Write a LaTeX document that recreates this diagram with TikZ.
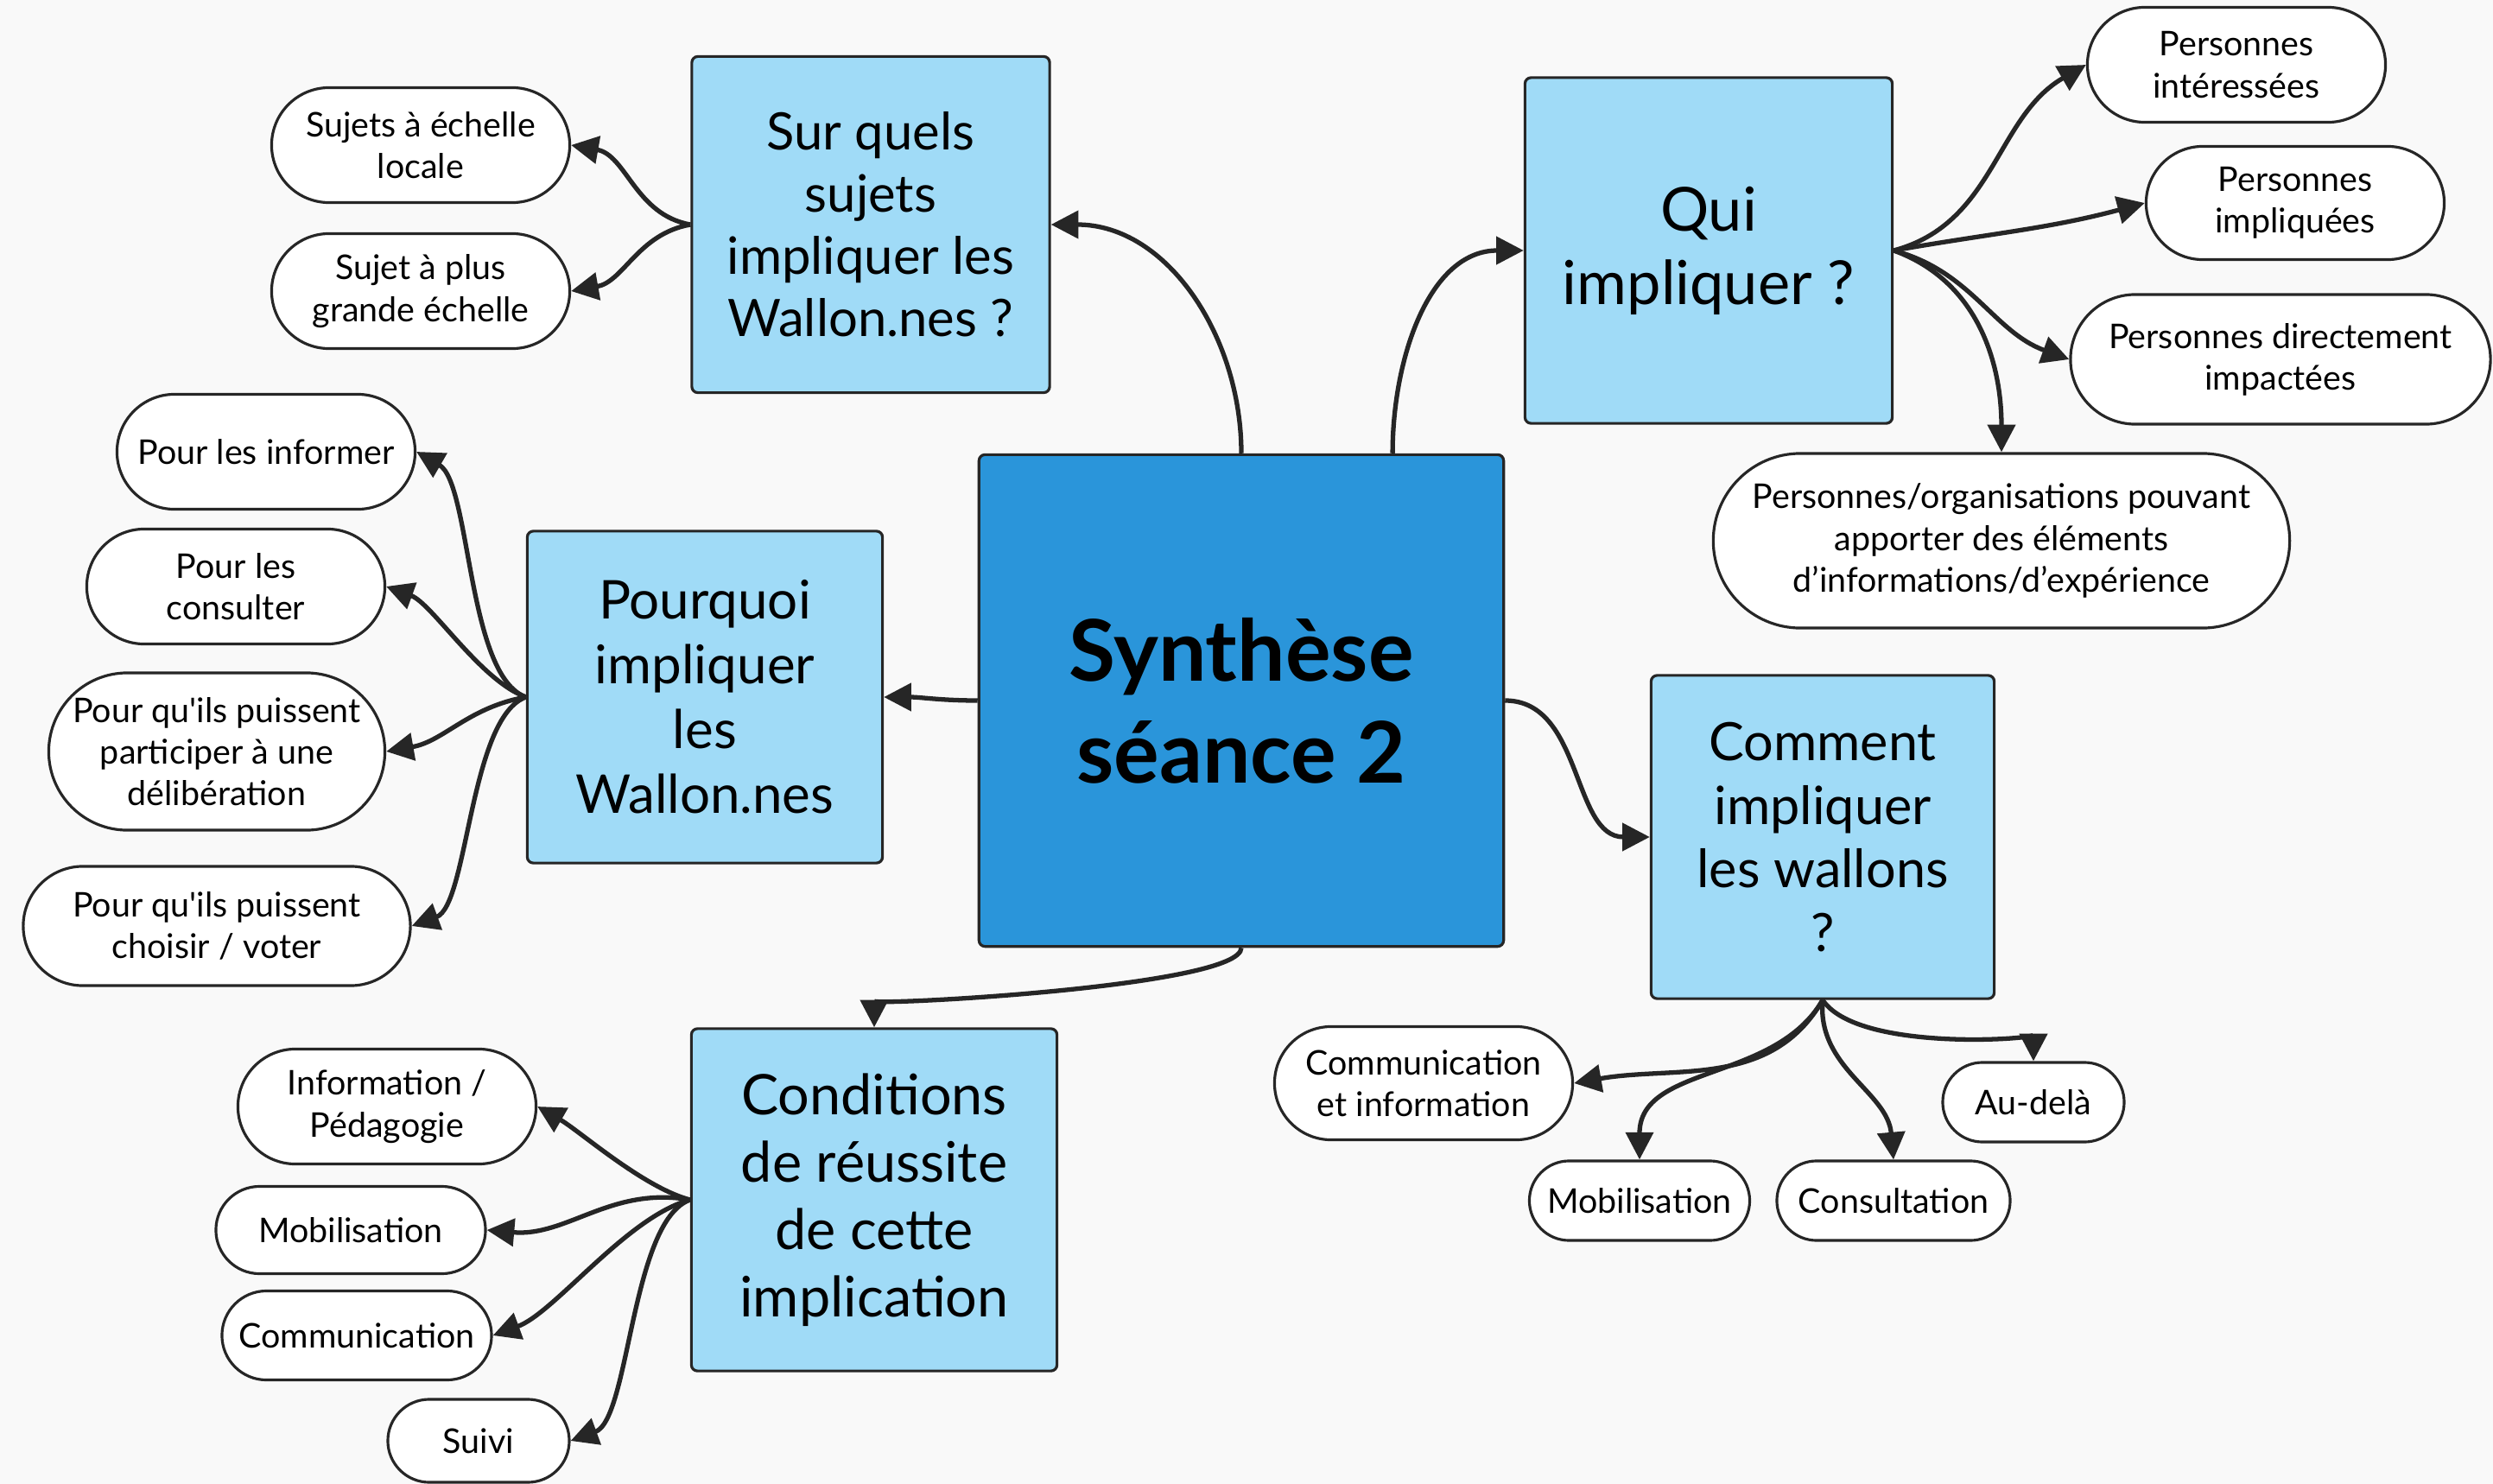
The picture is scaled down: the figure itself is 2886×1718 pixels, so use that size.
\documentclass[tikz,border=0pt]{standalone}
\usepackage{fontspec}
\defaultfontfeatures[\rmfamily]{}
\setmainfont{Lato}
\usetikzlibrary{arrows.meta,shapes.misc}
\definecolor{bgcol}{HTML}{F9F9F9}
\definecolor{hubcol}{HTML}{2A95DA}
\definecolor{topiccol}{HTML}{A0DBF7}
\begin{document}
\begin{tikzpicture}[x=0.01cm,y=0.01cm,
	hub/.style={rectangle,rounded corners=2pt,draw=black!85,line width=0.9pt,fill=hubcol,
		minimum width=6.07cm,minimum height=5.69cm,align=center,
		font=\fontsize{28}{33.6}\selectfont\bfseries},
	topic/.style={rectangle,rounded corners=2pt,draw=black!85,line width=0.9pt,fill=topiccol,align=center},
	leaf/.style={rounded rectangle,draw=black!85,line width=0.9pt,fill=white,align=center,
		inner sep=2pt,font=\fontsize{11.2}{13.7}\selectfont},
	link/.style={line width=1.5pt,draw=black!85,-{Triangle[length=9pt,width=9pt]}}
	]

	\useasboundingbox (0,0) rectangle (2886,-1718);
	\fill[bgcol] (0,0) rectangle (2886,-1718);

	% centre
	\node[hub] (central) at (1437,-811) {Synth\`ese\\s\'eance 2};

	% questions
	\node[topic,minimum width=4.14cm,minimum height=3.89cm,font=\fontsize{17}{20.5}\selectfont] (sur) at (1008,-260) {Sur quels\\sujets\\impliquer les\\Wallon.nes ?};
	\node[topic,minimum width=4.25cm,minimum height=4cm,font=\fontsize{20}{24.2}\selectfont] (qui) at (1978,-290) {Qui\\impliquer ?};
	\node[topic,minimum width=4.11cm,minimum height=3.84cm,font=\fontsize{17.6}{21.3}\selectfont] (pourquoi) at (816,-807) {Pourquoi\\impliquer\\les\\Wallon.nes};
	\node[topic,minimum width=3.97cm,minimum height=3.74cm,font=\fontsize{17.4}{21}\selectfont] (comment) at (2110,-969) {Comment\\impliquer\\les wallons\\?};
	\node[topic,minimum width=4.23cm,minimum height=3.96cm,font=\fontsize{18.4}{22.2}\selectfont] (cond) at (1012,-1389) {Conditions\\de r\'eussite\\de cette\\implication};

	\draw[link] (central.north) to[out=90,in=0] (sur.east);
	\draw[link] ([xshift=1.75cm]central.north) to[out=90,in=180] (qui.west);
	\draw[link] (central.west) to[out=180,in=0] (pourquoi.east);
	\draw[link] (central.east) to[out=0,in=180] (comment.west);
	\draw[link] (central.south) .. controls +(0,-45) and +(0,25) .. (cond.north);

	% sur quels sujets
	\node[leaf,minimum width=3.59cm,minimum height=1.33cm] (locale) at (487,-168) {Sujets \`a \'echelle\\locale};
	\node[leaf,minimum width=3.59cm,minimum height=1.33cm] (grande) at (487,-337) {Sujet \`a plus\\grande \'echelle};

	\draw[link] (sur.west) to[out=170,in=-10] (locale.east);
	\draw[link] (sur.west) to[out=190,in=10] (grande.east);

	% qui
	\node[leaf,minimum width=3.59cm,minimum height=1.33cm] (interes) at (2589,-75) {Personnes\\int\'eress\'ees};
	\node[leaf,minimum width=3.59cm,minimum height=1.31cm] (impliq) at (2657,-235) {Personnes\\impliqu\'ees};
	\node[leaf,minimum width=5cm,minimum height=1.5cm] (impact) at (2640,-416) {Personnes directement\\impact\'ees};
	\node[leaf,minimum width=6.81cm,minimum height=2.02cm] (orga) at (2317,-626) {Personnes/organisations pouvant\\apporter des \'el\'ements\\d’informations/d’exp\'erience};

	\draw[link] (qui.east) to[out=15,in=210] (interes.west);
	\draw[link] (qui.east) to[out=10,in=195] (impliq.west);
	\draw[link] (qui.east) to[out=-15,in=160] (impact.west);
	\draw[link] (qui.east) to[out=-20,in=90] (orga.north);

	% pourquoi
	\node[leaf,minimum width=3.59cm,minimum height=1.33cm] (informer) at (308,-523) {Pour les informer};
	\node[leaf,minimum width=3.59cm,minimum height=1.33cm] (consulter) at (273,-679) {Pour les\\consulter};
	\node[leaf,minimum width=4.03cm,minimum height=1.82cm] (delib) at (251,-870) {Pour qu'ils puissent\\participer \`a une\\d\'elib\'eration};
	\node[leaf,minimum width=4.62cm,minimum height=1.38cm] (voter) at (251,-1072) {Pour qu'ils puissent\\choisir / voter};

	\draw[link] (pourquoi.west) to[out=160,in=-30,looseness=0.6] (informer.east);
	\draw[link] (pourquoi.west) to[out=160,in=-20,looseness=0.7] (consulter.east);
	\draw[link] (pourquoi.west) to[out=190,in=10] (delib.east);
	\draw[link] (pourquoi.west) to[out=200,in=20,looseness=0.6] (voter.east);

	% conditions
	\node[leaf,minimum width=3.59cm,minimum height=1.33cm] (pedago) at (448,-1281) {Information /\\P\'edagogie};
	\node[leaf,minimum width=3.26cm,minimum height=1.01cm] (mobil) at (406,-1424) {Mobilisation};
	\node[leaf,minimum width=3.26cm,minimum height=1.03cm] (commun) at (413,-1546) {Communication};
	\node[leaf,minimum width=2.24cm,minimum height=0.96cm] (suivi) at (554,-1668) {Suivi};

	\draw[link] (cond.west) to[out=165,in=-30,looseness=0.7] (pedago.east);
	\draw[link] (cond.west) to[out=170,in=-5] (mobil.east);
	\draw[link] (cond.west) to[out=195,in=20,looseness=0.7] (commun.east);
	\draw[link] (cond.west) to[out=200,in=20,looseness=0.6] (suivi.east);

	% comment
	\node[leaf,minimum width=3.59cm,minimum height=1.31cm] (cominfo) at (1648,-1254) {Communication\\et information};
	\node[leaf,minimum width=2.69cm,minimum height=0.92cm] (mobcom) at (1898,-1390) {Mobilisation};
	\node[leaf,minimum width=2.84cm,minimum height=0.92cm] (consult) at (2192,-1390) {Consultation};
	\node[leaf,minimum width=2.24cm,minimum height=0.92cm] (audela) at (2354,-1276) {Au-del\`a};

	\draw[link] (comment.south) to[out=-120,in=10] (cominfo.east);
	\draw[link] (comment.south) to[out=-120,in=90] (mobcom.north);
	\draw[link] (comment.south) to[out=-95,in=95] (consult.north);
	\draw[link] (comment.south) .. controls +(40,-60) and +(0,25) .. (audela.north);
\end{tikzpicture}
\end{document}
